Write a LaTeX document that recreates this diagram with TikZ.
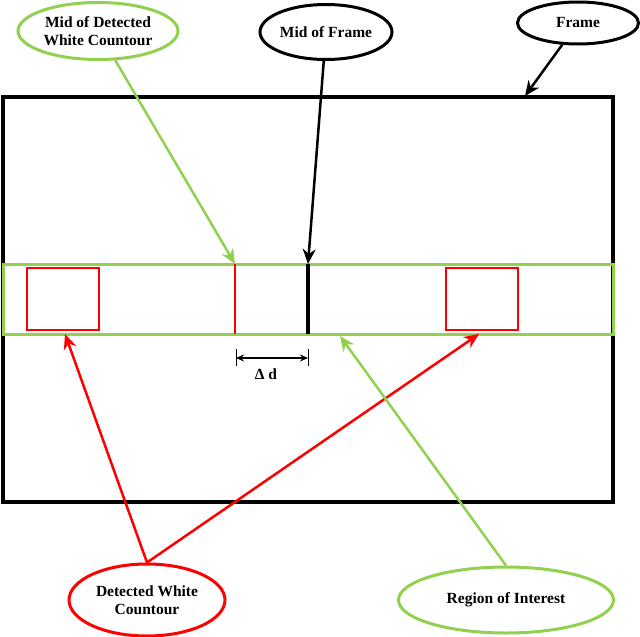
\documentclass[tikz,border=0pt]{standalone}
\usepackage{fontspec}
\setmainfont{Liberation Serif}
\usetikzlibrary{shapes.geometric,arrows.meta}
\definecolor{roigreen}{HTML}{92D050}
\definecolor{detred}{HTML}{FF0000}
\tikzset{
  lbl/.style={ellipse,draw,line width=3pt,inner sep=0pt,align=center,font=\fontsize{15.5}{18}\selectfont\bfseries},
  conn/.style={line width=2.5pt,-{Stealth[length=15pt,width=13pt]}},
}
\begin{document}
\begin{tikzpicture}[x=1pt,y=-1pt]
\useasboundingbox (0,0) rectangle (640,637);
% frame and ROI
\draw[line width=4pt] (3,97) rectangle (613,502);
\draw[roigreen,line width=3pt] (3,264) rectangle (613,334);
\draw[detred,line width=2pt] (27,268) rectangle (99,330);
\draw[detred,line width=2pt] (446,268) rectangle (518,330);
\coordinate (redtop) at (235,264);
\coordinate (redbot) at (235,334);
\coordinate (midtop) at (308,264);
\coordinate (midbot) at (308,334);
\draw[detred,line width=2pt] (redtop) -- (redbot);
\draw[line width=3.5pt] (midtop) -- (midbot);
% dimension
\coordinate (d1) at (236,358);
\coordinate (d2) at (308,358);
\draw[line width=1pt] (236,349) -- (236,366);
\draw[line width=1pt] (308,349) -- (308,366);
\draw[line width=1.3pt,{Stealth[length=8pt,width=7pt]}-{Stealth[length=8pt,width=7pt]}] (d1) -- (d2);
\node[font=\fontsize{15.5}{18}\selectfont\bfseries] (dd) at (266,374) {Δ d};
% label ellipses
\node[lbl,roigreen,text=black,minimum width=160pt,minimum height=57pt] (mdw) at (98,31) {Mid of Detected\\White Countour};
\node[lbl,minimum width=132pt,minimum height=55pt] (mfr) at (326,32) {Mid of Frame};
\node[lbl,minimum width=121pt,minimum height=42pt] (frm) at (578,23) {Frame};
\node[lbl,detred,text=black,minimum width=156pt,minimum height=72pt] (dwc) at (147,600) {Detected White\\Countour};
\node[lbl,roigreen,text=black,minimum width=215pt,minimum height=66pt] (roi) at (506,600) {Region of Interest};
% targets
\coordinate (frmt) at (525,96);
\coordinate (sq1) at (65,334);
\coordinate (sq2) at (479,334);
\coordinate (roit) at (340,336);
% connectors
\draw[conn,roigreen] (mdw) -- (redtop);
\draw[conn] (mfr) -- (midtop);
\draw[conn] (frm) -- (frmt);
\draw[conn,detred] (dwc.north) -- (sq1);
\draw[conn,detred] (dwc.north) -- (sq2);
\draw[conn,roigreen] (roi.north) -- (roit);
\end{tikzpicture}
\end{document}
